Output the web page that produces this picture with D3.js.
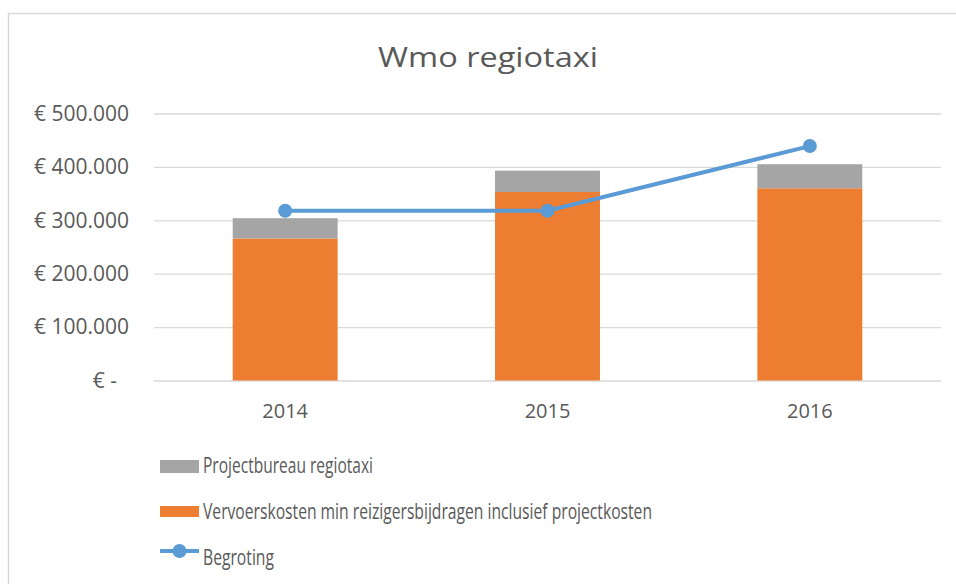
<!DOCTYPE html>
<html>
<head>
<meta charset="utf-8">
<script src="https://cdn.jsdelivr.net/npm/d3@7"></script>
<style>
  body { margin: 0; background: #fff; }
  text { font-family: "Open Sans", sans-serif; fill: #595959; }
</style>
</head>
<body>
<div id="chart"></div>
<script>
// chart data
var years = ["2014", "2015", "2016"];
var vervoerskosten = [266000, 353000, 360000];
var projectbureau = [38000, 40000, 45000];
var begroting = [318000, 318000, 439000];
var yTicks = [0, 100000, 200000, 300000, 400000, 500000];

var seriesNames = [
    "Projectbureau regiotaxi",
    "Vervoerskosten min reizigersbijdragen inclusief projectkosten",
    "Begroting"
];

var svgWidth = 956;
var svgHeight = 584;

var margin = { top: 113.5, right: 15, bottom: 203.5, left: 154 };
var width = svgWidth - margin.left - margin.right;
var height = svgHeight - margin.top - margin.bottom;

var svg = d3.select("#chart")
    .append("svg")
    .attr("width", svgWidth)
    .attr("height", svgHeight);

// chart border (top and left visible)
svg.append("path")
    .attr("d", "M8.5," + svgHeight + "V13.5H" + svgWidth)
    .attr("fill", "none")
    .attr("stroke", "#d9d9d9")
    .attr("stroke-width", 1.5);

svg.append("text")
    .attr("x", 488)
    .attr("y", 67)
    .attr("text-anchor", "middle")
    .attr("textLength", 220)
    .attr("lengthAdjust", "spacingAndGlyphs")
    .style("font-size", "28px")
    .text("Wmo regiotaxi");

var chartGroup = svg.append("g")
    .attr("transform", `translate(${margin.left}, ${margin.top})`);

var table = years.map(function (y, i) {
    return { year: y, vervoer: vervoerskosten[i], bureau: projectbureau[i], begroting: begroting[i] };
});

var xScale = d3.scaleBand()
    .domain(years)
    .range([0, width])
    .paddingInner(0.6)
    .paddingOuter(0.3);

var yScale = d3.scaleLinear()
    .domain([0, 500000])
    .range([height, 0]);

function euro(d) {
    if (d === 0) return "€ -";
    return "€ " + d3.format(",")(d).replace(/,/g, ".");
}

// gridlines + y labels
var leftAxis = d3.axisLeft(yScale)
    .tickValues(yTicks)
    .tickSize(-width)
    .tickPadding(25)
    .tickFormat(euro);

var yAxis = chartGroup.append("g").call(leftAxis);
yAxis.select(".domain").remove();
yAxis.selectAll(".tick line")
    .attr("stroke", "#d9d9d9")
    .attr("stroke-width", 1.3);
yAxis.selectAll(".tick text")
    .style("font-size", "21px")
    .attr("fill", "#595959")
    .attr("dx", d => d === 0 ? -12 : 0);

var bottomAxis = d3.axisBottom(xScale).tickSize(0).tickPadding(23);
var xAxis = chartGroup.append("g")
    .attr("transform", `translate(0, ${height})`)
    .call(bottomAxis);
xAxis.select(".domain").remove();
xAxis.selectAll(".tick text")
    .style("font-size", "20px")
    .attr("fill", "#595959");

// stacked bars
var stack = d3.stack().keys(["vervoer", "bureau"]);
var stacked = stack(table);
var colors = { vervoer: "#ED7D31", bureau: "#A5A5A5" };

chartGroup.selectAll("g.layer")
    .data(stacked)
    .enter()
    .append("g")
    .attr("class", "layer")
    .attr("fill", d => colors[d.key])
    .selectAll("rect")
    .data(d => d)
    .enter()
    .append("rect")
    .attr("x", d => xScale(d.data.year))
    .attr("y", d => yScale(d[1]))
    .attr("width", xScale.bandwidth())
    .attr("height", d => yScale(d[0]) - yScale(d[1]));

// begroting line
var line = d3.line()
    .x(d => xScale(d.year) + xScale.bandwidth() / 2)
    .y(d => yScale(d.begroting));

chartGroup.append("path")
    .datum(table)
    .attr("d", line)
    .attr("fill", "none")
    .attr("stroke", "#5B9BD5")
    .attr("stroke-width", 4)
    .attr("stroke-linejoin", "round");

chartGroup.selectAll("circle")
    .data(table)
    .enter()
    .append("circle")
    .attr("cx", d => xScale(d.year) + xScale.bandwidth() / 2)
    .attr("cy", d => yScale(d.begroting))
    .attr("r", 7)
    .attr("fill", "#5B9BD5");

// legend
var legendWidths = [170, 449, 71];
var legend = svg.append("g").attr("transform", "translate(160, 466)");
var rowGap = 46;

legend.append("rect")
    .attr("x", 0).attr("y", -6)
    .attr("width", 39).attr("height", 13)
    .attr("fill", colors.bureau);
legend.append("rect")
    .attr("x", 0).attr("y", rowGap - 6)
    .attr("width", 39).attr("height", 11)
    .attr("fill", colors.vervoer);
legend.append("line")
    .attr("x1", 0).attr("x2", 39)
    .attr("y1", rowGap * 2 - 7).attr("y2", rowGap * 2 - 7)
    .attr("stroke", "#5B9BD5")
    .attr("stroke-width", 4);
legend.append("circle")
    .attr("cx", 19.5).attr("cy", rowGap * 2 - 7)
    .attr("r", 7)
    .attr("fill", "#5B9BD5");

legend.selectAll("text")
    .data(seriesNames)
    .enter()
    .append("text")
    .attr("x", 43)
    .attr("y", (d, i) => i * rowGap + 7)
    .attr("textLength", (d, i) => legendWidths[i])
    .attr("lengthAdjust", "spacingAndGlyphs")
    .style("font-size", "22px")
    .text(d => d);
</script>
</body>
</html>
